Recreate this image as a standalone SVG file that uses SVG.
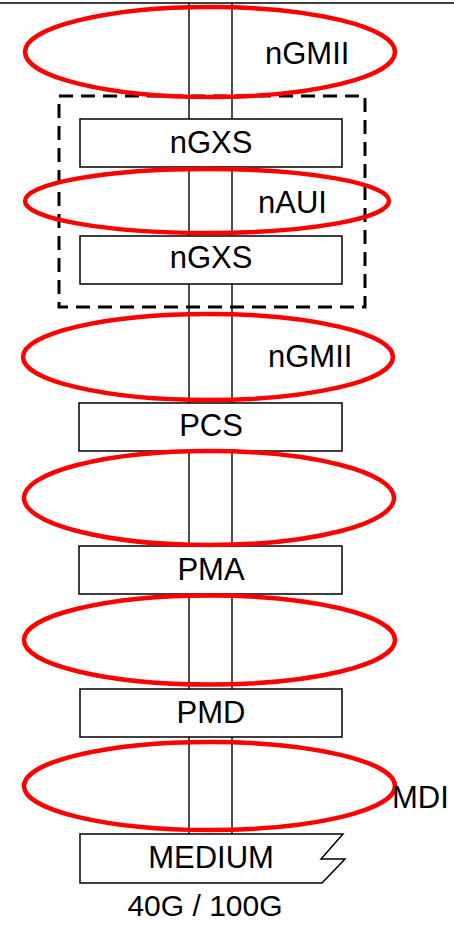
<svg xmlns="http://www.w3.org/2000/svg" width="454" height="925" viewBox="0 0 454 925">
<style>
.box{fill:#fff;stroke:#000;stroke-width:1.5}
.ell{fill:none;stroke:#ff0000;stroke-width:4.5}
.ln{stroke:#000;stroke-width:1.4;fill:none}
text{font-family:"Liberation Sans",Arial,sans-serif;font-size:31px;fill:#000}
.c{text-anchor:middle}
</style>
<rect width="454" height="925" fill="#fff"/>
<g id="connectors">
<line class="ln" x1="0" y1="3" x2="454" y2="3" stroke="#333"/>
<line class="ln" x1="189" y1="3" x2="189" y2="834"/>
<line class="ln" x1="232" y1="3" x2="232" y2="834"/>
</g>
<g id="xgxs-group">
<rect x="59" y="96" width="306" height="211" fill="none" stroke="#000" stroke-width="3" stroke-dasharray="14 8"/>
</g>
<g id="ngxs1"><rect class="box" x="80" y="119" width="262" height="48"/><text class="c" x="211" y="153">nGXS</text></g>
<g id="ngxs2"><rect class="box" x="80" y="236" width="262" height="48"/><text class="c" x="211" y="268">nGXS</text></g>
<g id="pcs"><rect class="box" x="79" y="403" width="263" height="48"/><text class="c" x="211" y="436">PCS</text></g>
<g id="pma"><rect class="box" x="79" y="546" width="263" height="48"/><text class="c" x="211" y="580">PMA</text></g>
<g id="pmd"><rect class="box" x="80" y="689" width="262" height="48"/><text class="c" x="211" y="723">PMD</text></g>
<g id="medium"><path class="box" d="M80,834 H343 L321,859 H345 L322,883 H80 Z"/><text class="c" x="211" y="868">MEDIUM</text></g>
<g id="ngmii1"><ellipse class="ell" cx="210" cy="52" rx="185" ry="45"/><text x="265" y="64">nGMII</text></g>
<g id="naui"><ellipse class="ell" cx="207" cy="201" rx="182" ry="32"/><text x="258" y="213">nAUI</text></g>
<g id="ngmii2"><ellipse class="ell" cx="208" cy="357" rx="185" ry="43"/><text x="268" y="367">nGMII</text></g>
<g id="e4"><ellipse class="ell" cx="209" cy="498" rx="185" ry="47"/></g>
<g id="e5"><ellipse class="ell" cx="209.5" cy="640" rx="185.5" ry="44.5"/></g>
<g id="mdi"><ellipse class="ell" cx="209.5" cy="786" rx="185.5" ry="44"/><text x="392" y="808">MDI</text></g>
<text class="c" x="205" y="916" style="font-size:30px">40G / 100G</text>
</svg>
